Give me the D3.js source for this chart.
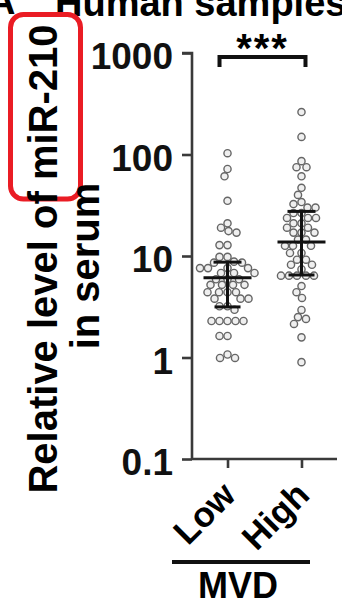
<!DOCTYPE html>
<html>
<head>
<meta charset="utf-8">
<script src="https://cdn.jsdelivr.net/npm/d3@7/dist/d3.min.js"></script>
<style>
  html, body { margin: 0; padding: 0; background: #fff; }
  svg { display: block; font-family: "Liberation Sans", Arial, Helvetica, sans-serif; font-weight: bold; }
</style>
</head>
<body>
<svg id="chart" width="342" height="603"></svg>
<script>
// ---- data ----
const categories = ["Low", "High"];
const lowValues = [103, 72, 61, 35, 21, 19, 17.6, 17, 12.8, 12.8,
  9.8, 9.8, 8.8, 8.6, 8.6, 7.6, 7.6, 7.6, 7.6, 6.8, 6.8, 6.8,
  5.9, 5.9, 5.9, 5.2, 5.2, 5.2, 5.2, 4.4, 4.4, 4.4, 4.4,
  3.8, 3.8, 3.8, 3.2, 3.2, 2.95,
  2.29, 2.29, 2.29, 2.29, 2.29, 1.63, 1.63, 1.07, 0.99, 0.99];
const highValues = [262, 149, 86, 75, 75, 61, 47, 40, 34, 32.5, 30, 30, 26.5, 26.5,
  23.7, 23.7, 23.7, 21, 21, 19, 19, 17, 17, 17, 14.5, 14.5,
  12.6, 12.6, 12.6, 10.7, 10.7, 9.2, 9.2, 8.2, 8.2, 7.4,
  6.4, 6.4, 6.4, 6.4, 6.4,
  5.06, 4.4, 3.86, 2.94, 2.5, 2.4, 2.14, 1.58, 0.9];
const medians = [6.1, 13.7];
const lowerBars = [3.15, 6.5];
const upperBars = [8.7, 27.5];
const yTicks = [0.1, 1, 10, 100, 1000];
const yLabelLines = ["Relative level of miR-210", "in serum"];
const groupTitle = "MVD";
const significance = "***";
const panelLetter = "A";
const panelTitle = "Human samples";

// ---- layout ----
const svg = d3.select("#chart");
const axisX = 192, axisBottom = 459, axisTop = 53, axisRight = 337;
const axisColor = "#3a3a3a";

const y = d3.scaleLog().domain([0.1, 1000]).range([axisBottom, axisTop]);
const x = d3.scalePoint().domain(categories).range([axisX, axisRight]).padding(0.48);

// panel title (cut at top, as in the reference)
svg.append("text").attr("x", -12).attr("y", 14).attr("font-size", 38).text(panelLetter);
svg.append("text").attr("x", 55).attr("y", 16).attr("font-size", 38).text(panelTitle);

// red highlight box
svg.append("rect").attr("x", 10.5).attr("y", 14.5).attr("width", 70).attr("height", 184.5)
  .attr("rx", 13).attr("fill", "none").attr("stroke", "#ea1c24").attr("stroke-width", 5);

// y label
svg.append("text").attr("font-size", 40).attr("text-anchor", "middle")
  .attr("transform", "translate(57,259) rotate(-90)").text(yLabelLines[0]);
svg.append("text").attr("font-size", 40).attr("text-anchor", "middle")
  .attr("transform", "translate(99,266) rotate(-90)").text(yLabelLines[1]);

// y axis
const yAxis = d3.axisLeft(y).tickValues(yTicks).tickFormat(d => String(d))
  .tickSize(10).tickPadding(9);
const gy = svg.append("g").attr("transform", `translate(${axisX},0)`).call(yAxis);
gy.select(".domain").attr("stroke", axisColor).attr("stroke-width", 2.6)
  .attr("d", `M-10,${axisTop}H0V${axisBottom}`);
gy.selectAll(".tick line").attr("stroke", axisColor).attr("stroke-width", 2.6);
gy.selectAll(".tick text").attr("font-size", 37).attr("font-weight", "bold")
  .attr("fill", "#111").attr("font-family", "Liberation Sans, Arial, sans-serif")
  .attr("dy", "0.42em");

// x axis
const xAxis = d3.axisBottom(x).tickSize(9).tickFormat("");
const gx = svg.append("g").attr("transform", `translate(0,${axisBottom})`).call(xAxis);
gx.select(".domain").attr("stroke", axisColor).attr("stroke-width", 2.6)
  .attr("d", `M${axisX},0H${axisRight}`);
gx.selectAll(".tick line").attr("stroke", axisColor).attr("stroke-width", 2.6);

// category labels rotated
svg.selectAll(".catlab").data(categories).join("text")
  .attr("class", "catlab")
  .attr("font-size", 35).attr("text-anchor", "end")
  .attr("transform", d => `translate(${x(d) + 10},497) rotate(-45)`)
  .text(d => d);

// group line and title
svg.append("line").attr("x1", 172).attr("x2", 310).attr("y1", 562).attr("y2", 562)
  .attr("stroke", "#111").attr("stroke-width", 4);
svg.append("text").attr("x", 238).attr("y", 598).attr("font-size", 36)
  .attr("text-anchor", "middle").text(groupTitle);

// beeswarm points
function swarm(values, cx) {
  const r = 3.6, minD = 7.8;
  const placed = [];
  const sorted = values.map(v => ({ v, yy: y(v) })).sort((a, b) => a.yy - b.yy);
  sorted.forEach(p => {
    let best = 0;
    for (let k = 0; k < 200; k++) {
      const off = (k % 2 === 0 ? 1 : -1) * Math.ceil(k / 2) * 0.5;
      const ok = placed.every(q => Math.hypot(q.x - (cx + off), q.y - p.yy) >= minD);
      if (ok) { best = off; break; }
    }
    placed.push({ x: cx + best, y: p.yy, r });
  });
  return placed;
}
const groups = [lowValues, highValues];
groups.forEach((vals, i) => {
  const pts = swarm(vals, x(categories[i]));
  svg.append("g").selectAll("circle").data(pts).join("circle")
    .attr("cx", d => d.x).attr("cy", d => d.y).attr("r", d => d.r)
    .attr("fill", "#efefef").attr("stroke", "#666").attr("stroke-width", 1.4);
});

// median and error bars
const eb = svg.append("g").attr("stroke", "#111").attr("stroke-width", 3);
categories.forEach((c, i) => {
  const cx = x(c);
  eb.append("line").attr("x1", cx).attr("x2", cx).attr("y1", y(upperBars[i])).attr("y2", y(lowerBars[i]));
  eb.append("line").attr("x1", cx - 24).attr("x2", cx + 24).attr("y1", y(medians[i])).attr("y2", y(medians[i]));
  eb.append("line").attr("x1", cx - 14).attr("x2", cx + 14).attr("y1", y(upperBars[i])).attr("y2", y(upperBars[i]));
  eb.append("line").attr("x1", cx - 13).attr("x2", cx + 13).attr("y1", y(lowerBars[i])).attr("y2", y(lowerBars[i]));
});

// significance bracket
const bx1 = x(categories[0]) - 8, bx2 = x(categories[1]) + 4, bTop = axisTop + 4, bLeg = axisTop + 14;
svg.append("path").attr("d", `M${bx1},${bLeg}V${bTop}H${bx2}V${bLeg}`)
  .attr("fill", "none").attr("stroke", "#111").attr("stroke-width", 4);
svg.append("text").attr("x", (bx1 + bx2) / 2).attr("y", 62).attr("font-size", 40)
  .attr("text-anchor", "middle").attr("letter-spacing", 2).text(significance);
</script>
</body>
</html>
